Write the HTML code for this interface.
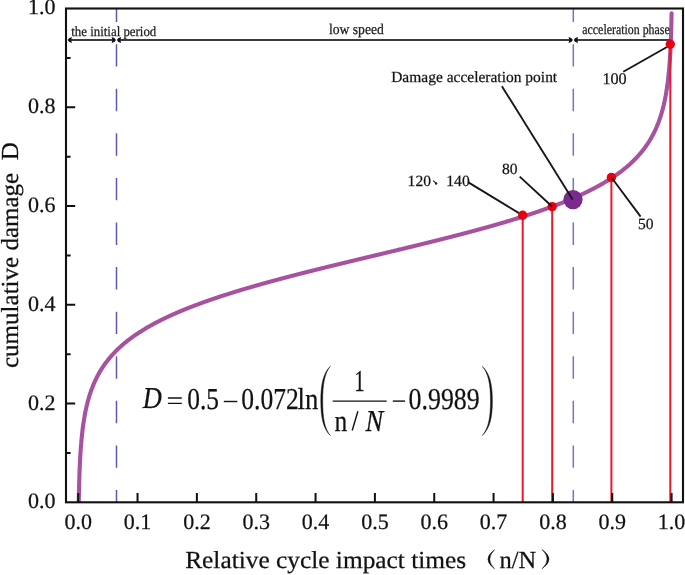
<!DOCTYPE html><html><head><meta charset="utf-8"><style>html,body{margin:0;padding:0;background:#fff;}svg{display:block;filter:blur(0.35px);text-rendering:geometricPrecision;}text{font-family:"Liberation Serif",serif;stroke:#1a1a1a;stroke-width:0.25px;}</style></head><body>
<svg width="685" height="575" viewBox="0 0 685 575">
<rect width="685" height="575" fill="#fff"/>
<line x1="116.5" y1="8.5" x2="116.5" y2="502.3" stroke="#5a5aae" stroke-width="1.5" stroke-dasharray="22.4 22.18" stroke-dashoffset="8.88"/>
<line x1="573.3" y1="8.5" x2="573.3" y2="502.3" stroke="#7474c2" stroke-width="1.5" stroke-dasharray="22.4 22.18" stroke-dashoffset="8.88"/>
<clipPath id="cp"><rect x="66.0" y="0" width="617.0" height="502.3"/></clipPath>
<path clip-path="url(#cp)" d="M78.77,502.30L78.78,501.48L78.79,500.96L78.80,500.67L78.81,499.85L78.83,499.04L78.84,498.22L78.86,497.40L78.87,496.59L78.89,495.77L78.90,494.96L78.92,494.14L78.94,493.32L78.95,492.51L78.97,491.69L78.99,490.88L79.01,490.06L79.02,489.24L79.04,488.43L79.06,487.61L79.08,486.80L79.10,485.98L79.12,485.16L79.15,484.35L79.17,483.53L79.19,482.79L79.19,482.71L79.21,481.90L79.24,481.08L79.26,480.27L79.29,479.45L79.31,478.63L79.34,477.82L79.36,477.00L79.39,476.19L79.42,475.37L79.45,474.55L79.47,473.74L79.50,472.92L79.53,472.11L79.57,471.29L79.58,470.81L79.60,470.47L79.63,469.66L79.66,468.84L79.70,468.03L79.73,467.21L79.77,466.39L79.80,465.58L79.84,464.76L79.88,463.95L79.92,463.13L79.96,462.31L79.98,461.86L80.00,461.50L80.04,460.68L80.08,459.87L80.12,459.05L80.17,458.23L80.21,457.42L80.26,456.60L80.31,455.79L80.36,454.97L80.37,454.70L80.41,454.15L80.46,453.34L80.51,452.52L80.56,451.71L80.62,450.89L80.68,450.07L80.73,449.26L80.77,448.74L80.79,448.44L80.85,447.62L80.91,446.81L80.97,445.99L81.04,445.18L81.10,444.36L81.16,443.63L81.17,443.54L81.24,442.73L81.31,441.91L81.38,441.10L81.46,440.28L81.53,439.46L81.56,439.16L81.61,438.65L81.69,437.83L81.77,437.02L81.85,436.20L81.93,435.38L81.96,435.18L82.02,434.57L82.11,433.75L82.20,432.94L82.29,432.12L82.35,431.60L82.38,431.30L82.48,430.49L82.58,429.67L82.68,428.86L82.75,428.34L82.78,428.04L82.89,427.22L83.00,426.41L83.11,425.59L83.14,425.35L83.22,424.78L83.34,423.96L83.45,423.14L83.54,422.60L83.58,422.33L83.70,421.51L83.83,420.70L83.93,420.03L83.96,419.88L84.09,419.06L84.22,418.25L84.33,417.64L84.36,417.43L84.50,416.62L84.65,415.80L84.72,415.39L84.80,414.98L84.95,414.17L85.10,413.35L85.12,413.27L85.26,412.53L85.42,411.72L85.51,411.28L85.59,410.90L85.76,410.09L85.91,409.38L85.93,409.27L86.11,408.45L86.29,407.64L86.30,407.58L86.47,406.82L86.66,406.01L86.70,405.86L86.86,405.19L87.06,404.37L87.09,404.22L87.26,403.56L87.46,402.74L87.49,402.65L87.68,401.93L87.88,401.15L87.89,401.11L88.11,400.29L88.28,399.70L88.34,399.48L88.57,398.66L88.67,398.31L88.81,397.85L89.05,397.03L89.07,396.97L89.30,396.21L89.46,395.67L89.55,395.40L89.81,394.58L89.86,394.42L90.07,393.77L90.25,393.21L90.34,392.95L90.62,392.13L90.65,392.04L90.90,391.32L91.04,390.91L91.19,390.50L91.44,389.81L91.48,389.69L91.79,388.87L91.84,388.74L92.09,388.05L92.23,387.70L92.41,387.24L92.63,386.69L92.73,386.42L93.02,385.70L93.06,385.61L93.40,384.79L93.42,384.74L93.74,383.97L93.81,383.80L94.09,383.16L94.21,382.89L94.45,382.34L94.60,382.00L94.82,381.52L95.00,381.13L95.19,380.71L95.39,380.28L95.57,379.89L95.79,379.45L95.97,379.08L96.18,378.63L96.37,378.26L96.58,377.83L96.77,377.44L96.97,377.05L97.19,376.63L97.37,376.29L97.62,375.81L97.76,375.54L98.05,375.00L98.16,374.80L98.50,374.18L98.55,374.08L98.95,373.37L98.95,373.36L99.34,372.68L99.42,372.55L99.74,372.00L99.89,371.73L100.13,371.32L100.38,370.92L100.53,370.67L100.87,370.10L100.92,370.02L101.32,369.38L101.38,369.28L101.72,368.75L101.90,368.47L102.11,368.14L102.42,367.65L102.51,367.53L102.90,366.93L102.96,366.84L103.30,366.34L103.51,366.02L103.69,365.76L104.08,365.20L104.09,365.19L104.48,364.63L104.65,364.39L104.88,364.07L105.24,363.57L105.27,363.52L105.67,362.98L105.83,362.76L106.06,362.45L106.45,361.94L106.46,361.92L106.85,361.41L107.07,361.12L107.25,360.89L107.64,360.39L107.71,360.31L108.04,359.89L108.36,359.49L108.43,359.40L108.83,358.91L109.02,358.68L109.22,358.43L109.62,357.95L109.70,357.86L110.01,357.49L110.39,357.04L110.41,357.02L110.80,356.56L111.10,356.23L111.20,356.11L111.60,355.66L111.82,355.41L111.99,355.22L112.39,354.78L112.55,354.60L112.78,354.35L113.18,353.92L113.30,353.78L113.57,353.49L113.97,353.07L114.07,352.96L114.36,352.66L114.76,352.24L114.85,352.15L115.15,351.84L115.55,351.43L115.65,351.33L115.94,351.03L116.34,350.64L116.46,350.52L116.73,350.25L117.13,349.86L117.29,349.70L117.52,349.47L117.92,349.09L118.14,348.88L118.31,348.72L118.71,348.34L119.00,348.07L119.10,347.97L119.50,347.60L119.88,347.25L119.89,347.24L120.29,346.88L120.69,346.52L120.78,346.43L121.08,346.17L121.48,345.82L121.70,345.62L121.87,345.47L122.27,345.12L122.63,344.80L122.66,344.78L123.06,344.44L123.45,344.10L123.59,343.99L123.85,343.77L124.24,343.43L124.56,343.17L124.64,343.10L125.03,342.78L125.43,342.45L125.55,342.35L125.82,342.13L126.22,341.81L126.56,341.54L126.61,341.49L127.01,341.18L127.40,340.87L127.59,340.72L127.80,340.56L128.19,340.25L128.59,339.94L128.64,339.91L128.98,339.64L129.38,339.34L129.71,339.09L129.77,339.04L130.17,338.74L130.57,338.45L130.80,338.27L130.96,338.15L131.36,337.86L131.75,337.57L131.91,337.46L132.15,337.29L132.54,337.00L132.94,336.72L133.04,336.64L133.33,336.43L133.73,336.15L134.12,335.88L134.19,335.83L134.52,335.60L134.91,335.33L135.31,335.05L135.37,335.01L135.70,334.78L136.10,334.51L136.49,334.24L136.57,334.19L136.89,333.98L137.28,333.71L137.68,333.45L137.78,333.38L138.07,333.19L138.47,332.93L138.86,332.67L139.03,332.56L139.26,332.41L139.65,332.15L140.05,331.90L140.29,331.75L140.45,331.65L140.84,331.40L141.24,331.15L141.58,330.93L141.63,330.90L142.03,330.65L142.42,330.40L142.82,330.16L142.89,330.11L143.21,329.92L143.61,329.67L144.00,329.43L144.23,329.30L144.40,329.19L144.79,328.96L145.19,328.72L145.58,328.48L145.59,328.48L145.98,328.25L146.37,328.02L146.77,327.78L146.97,327.67L147.16,327.55L147.56,327.32L147.95,327.09L148.35,326.87L148.38,326.85L148.74,326.64L149.14,326.41L149.53,326.19L149.81,326.03L149.93,325.97L150.33,325.74L150.72,325.52L151.12,325.30L151.27,325.22L151.51,325.08L151.91,324.87L152.30,324.65L152.70,324.43L152.75,324.40L153.09,324.22L153.49,324.00L153.88,323.79L154.26,323.59L154.28,323.58L154.67,323.37L155.07,323.16L155.46,322.95L155.80,322.77L155.86,322.74L156.25,322.53L156.65,322.32L157.04,322.12L157.36,321.95L157.44,321.91L157.83,321.71L158.23,321.50L158.62,321.30L158.95,321.14L159.02,321.10L159.42,320.90L159.81,320.70L160.21,320.50L160.56,320.32L160.60,320.30L161.00,320.10L161.39,319.91L161.79,319.71L162.18,319.52L162.20,319.51L162.58,319.32L162.97,319.13L163.37,318.94L163.76,318.74L163.87,318.69L164.16,318.55L164.55,318.36L164.95,318.17L165.34,317.98L165.57,317.87L165.74,317.79L166.13,317.61L166.53,317.42L166.92,317.23L167.29,317.06L167.32,317.05L167.71,316.86L168.11,316.68L168.50,316.49L168.90,316.31L169.05,316.24L169.30,316.13L169.69,315.94L170.09,315.76L170.48,315.58L170.83,315.43L170.88,315.40L171.27,315.22L171.67,315.05L172.06,314.87L172.46,314.69L172.64,314.61L172.85,314.51L173.25,314.34L173.64,314.16L174.04,313.99L174.43,313.81L174.47,313.79L174.83,313.64L175.22,313.46L175.62,313.29L176.01,313.12L176.34,312.98L176.41,312.95L176.80,312.78L177.20,312.61L177.59,312.44L177.99,312.27L178.24,312.16L178.38,312.10L178.78,311.93L179.18,311.76L179.57,311.59L179.97,311.43L180.16,311.34L180.36,311.26L180.76,311.09L181.15,310.93L181.55,310.76L181.94,310.60L182.11,310.53L182.34,310.44L182.73,310.27L183.13,310.11L183.52,309.95L183.92,309.79L184.10,309.71L184.31,309.62L184.71,309.46L185.10,309.30L185.50,309.14L185.89,308.98L186.11,308.90L186.29,308.82L186.68,308.67L187.08,308.51L187.47,308.35L187.87,308.19L188.15,308.08L188.27,308.04L188.66,307.88L189.06,307.72L189.45,307.57L189.85,307.41L190.22,307.26L190.24,307.26L190.64,307.10L191.03,306.95L191.43,306.80L191.82,306.64L192.22,306.49L192.32,306.45L192.61,306.34L193.01,306.19L193.40,306.03L193.80,305.88L194.19,305.73L194.45,305.63L194.59,305.58L194.98,305.43L195.38,305.28L195.77,305.13L196.17,304.98L196.56,304.84L196.62,304.82L196.96,304.69L197.35,304.54L197.75,304.39L198.15,304.25L198.54,304.10L198.81,304.00L198.94,303.95L199.33,303.81L199.73,303.66L200.12,303.52L200.52,303.37L200.91,303.23L201.03,303.18L201.31,303.08L201.70,302.94L202.10,302.80L202.49,302.65L202.89,302.51L203.28,302.37L203.28,302.37L203.68,302.23L204.07,302.08L204.47,301.94L204.86,301.80L205.26,301.66L205.56,301.55L205.65,301.52L206.05,301.38L206.44,301.24L206.84,301.10L207.23,300.96L207.63,300.82L207.87,300.74L208.03,300.68L208.42,300.54L208.82,300.41L209.21,300.27L209.61,300.13L210.00,299.99L210.22,299.92L210.40,299.86L210.79,299.72L211.19,299.58L211.58,299.45L211.98,299.31L212.37,299.18L212.59,299.10L212.77,299.04L213.16,298.91L213.56,298.77L213.95,298.64L214.35,298.51L214.74,298.37L214.99,298.29L215.14,298.24L215.53,298.10L215.93,297.97L216.32,297.84L216.72,297.71L217.11,297.57L217.42,297.47L217.51,297.44L217.91,297.31L218.30,297.18L218.70,297.05L219.09,296.92L219.49,296.79L219.88,296.66L219.88,296.66L220.28,296.53L220.67,296.40L221.07,296.27L221.46,296.14L221.86,296.01L222.25,295.88L222.38,295.84L222.65,295.75L223.04,295.62L223.44,295.49L223.83,295.37L224.23,295.24L224.62,295.11L224.90,295.02L225.02,294.98L225.41,294.86L225.81,294.73L226.20,294.60L226.60,294.48L227.00,294.35L227.39,294.23L227.45,294.21L227.79,294.10L228.18,293.97L228.58,293.85L228.97,293.72L229.37,293.60L229.76,293.48L230.03,293.39L230.16,293.35L230.55,293.23L230.95,293.10L231.34,292.98L231.74,292.86L232.13,292.73L232.53,292.61L232.64,292.58L232.92,292.49L233.32,292.36L233.71,292.24L234.11,292.12L234.50,292.00L234.90,291.87L235.27,291.76L235.29,291.75L235.69,291.63L236.08,291.51L236.48,291.39L236.88,291.27L237.27,291.15L237.67,291.03L237.94,290.94L238.06,290.91L238.46,290.79L238.85,290.67L239.25,290.55L239.64,290.43L240.04,290.31L240.43,290.19L240.63,290.13L240.83,290.07L241.22,289.95L241.62,289.83L242.01,289.71L242.41,289.60L242.80,289.48L243.20,289.36L243.36,289.31L243.59,289.24L243.99,289.12L244.38,289.01L244.78,288.89L245.17,288.77L245.57,288.65L245.96,288.54L246.11,288.50L246.36,288.42L246.76,288.31L247.15,288.19L247.55,288.07L247.94,287.96L248.34,287.84L248.73,287.73L248.89,287.68L249.13,287.61L249.52,287.49L249.92,287.38L250.31,287.26L250.71,287.15L251.10,287.03L251.50,286.92L251.69,286.86L251.89,286.81L252.29,286.69L252.68,286.58L253.08,286.46L253.47,286.35L253.87,286.24L254.26,286.12L254.53,286.05L254.66,286.01L255.05,285.90L255.45,285.78L255.84,285.67L256.24,285.56L256.64,285.44L257.03,285.33L257.39,285.23L257.43,285.22L257.82,285.11L258.22,285.00L258.61,284.88L259.01,284.77L259.40,284.66L259.80,284.55L260.19,284.44L260.27,284.42L260.59,284.33L260.98,284.22L261.38,284.10L261.77,283.99L262.17,283.88L262.56,283.77L262.96,283.66L263.18,283.60L263.35,283.55L263.75,283.44L264.14,283.33L264.54,283.22L264.93,283.11L265.33,283.00L265.73,282.89L266.12,282.78L266.12,282.78L266.52,282.67L266.91,282.56L267.31,282.46L267.70,282.35L268.10,282.24L268.49,282.13L268.89,282.02L269.08,281.97L269.28,281.91L269.68,281.80L270.07,281.70L270.47,281.59L270.86,281.48L271.26,281.37L271.65,281.26L272.05,281.16L272.07,281.15L272.44,281.05L272.84,280.94L273.23,280.83L273.63,280.73L274.02,280.62L274.42,280.51L274.81,280.41L275.08,280.34L275.21,280.30L275.61,280.19L276.00,280.09L276.40,279.98L276.79,279.87L277.19,279.77L277.58,279.66L277.98,279.55L278.11,279.52L278.37,279.45L278.77,279.34L279.16,279.24L279.56,279.13L279.95,279.03L280.35,278.92L280.74,278.82L281.14,278.71L281.17,278.70L281.53,278.61L281.93,278.50L282.32,278.40L282.72,278.29L283.11,278.19L283.51,278.08L283.90,277.98L284.24,277.89L284.30,277.87L284.69,277.77L285.09,277.66L285.49,277.56L285.88,277.46L286.28,277.35L286.67,277.25L287.07,277.14L287.34,277.07L287.46,277.04L287.86,276.94L288.25,276.83L288.65,276.73L289.04,276.63L289.44,276.52L289.83,276.42L290.23,276.32L290.47,276.25L290.62,276.21L291.02,276.11L291.41,276.01L291.81,275.91L292.20,275.80L292.60,275.70L292.99,275.60L293.39,275.50L293.61,275.44L293.78,275.39L294.18,275.29L294.58,275.19L294.97,275.09L295.37,274.98L295.76,274.88L296.16,274.78L296.55,274.68L296.77,274.62L296.95,274.58L297.34,274.48L297.74,274.37L298.13,274.27L298.53,274.17L298.92,274.07L299.32,273.97L299.71,273.87L299.95,273.81L300.11,273.77L300.50,273.67L300.90,273.56L301.29,273.46L301.69,273.36L302.08,273.26L302.48,273.16L302.87,273.06L303.15,272.99L303.27,272.96L303.66,272.86L304.06,272.76L304.46,272.66L304.85,272.56L305.25,272.46L305.64,272.36L306.04,272.26L306.37,272.17L306.43,272.16L306.83,272.06L307.22,271.96L307.62,271.86L308.01,271.76L308.41,271.66L308.80,271.56L309.20,271.46L309.59,271.36L309.60,271.36L309.99,271.26L310.38,271.16L310.78,271.06L311.17,270.96L311.57,270.86L311.96,270.76L312.36,270.67L312.75,270.57L312.85,270.54L313.15,270.47L313.54,270.37L313.94,270.27L314.34,270.17L314.73,270.07L315.13,269.97L315.52,269.88L315.92,269.78L316.12,269.73L316.31,269.68L316.71,269.58L317.10,269.48L317.50,269.38L317.89,269.28L318.29,269.19L318.68,269.09L319.08,268.99L319.40,268.91L319.47,268.89L319.87,268.79L320.26,268.70L320.66,268.60L321.05,268.50L321.45,268.40L321.84,268.30L322.24,268.21L322.63,268.11L322.69,268.09L323.03,268.01L323.42,267.91L323.82,267.82L324.22,267.72L324.61,267.62L325.01,267.52L325.40,267.43L325.80,267.33L326.00,267.28L326.19,267.23L326.59,267.13L326.98,267.04L327.38,266.94L327.77,266.84L328.17,266.75L328.56,266.65L328.96,266.55L329.32,266.46L329.35,266.46L329.75,266.36L330.14,266.26L330.54,266.16L330.93,266.07L331.33,265.97L331.72,265.87L332.12,265.78L332.51,265.68L332.66,265.65L332.91,265.58L333.31,265.49L333.70,265.39L334.10,265.30L334.49,265.20L334.89,265.10L335.28,265.01L335.68,264.91L336.00,264.83L336.07,264.81L336.47,264.72L336.86,264.62L337.26,264.52L337.65,264.43L338.05,264.33L338.44,264.24L338.84,264.14L339.23,264.04L339.36,264.01L339.63,263.95L340.02,263.85L340.42,263.76L340.81,263.66L341.21,263.56L341.60,263.47L342.00,263.37L342.39,263.28L342.72,263.20L342.79,263.18L343.19,263.09L343.58,262.99L343.98,262.89L344.37,262.80L344.77,262.70L345.16,262.61L345.56,262.51L345.95,262.42L346.09,262.38L346.35,262.32L346.74,262.23L347.14,262.13L347.53,262.03L347.93,261.94L348.32,261.84L348.72,261.75L349.11,261.65L349.47,261.57L349.51,261.56L349.90,261.46L350.30,261.37L350.69,261.27L351.09,261.18L351.48,261.08L351.88,260.99L352.27,260.89L352.67,260.80L352.86,260.75L353.07,260.70L353.46,260.61L353.86,260.51L354.25,260.42L354.65,260.32L355.04,260.23L355.44,260.13L355.83,260.04L356.23,259.94L356.25,259.93L356.62,259.85L357.02,259.75L357.41,259.66L357.81,259.56L358.20,259.47L358.60,259.37L358.99,259.28L359.39,259.18L359.65,259.12L359.78,259.09L360.18,258.99L360.57,258.90L360.97,258.80L361.36,258.71L361.76,258.61L362.15,258.52L362.55,258.42L362.95,258.33L363.05,258.30L363.34,258.23L363.74,258.14L364.13,258.04L364.53,257.95L364.92,257.85L365.32,257.76L365.71,257.66L366.11,257.57L366.46,257.49L366.50,257.47L366.90,257.38L367.29,257.29L367.69,257.19L368.08,257.10L368.48,257.00L368.87,256.91L369.27,256.81L369.66,256.72L369.86,256.67L370.06,256.62L370.45,256.53L370.85,256.43L371.24,256.34L371.64,256.24L372.04,256.15L372.43,256.06L372.83,255.96L373.22,255.87L373.27,255.85L373.62,255.77L374.01,255.68L374.41,255.58L374.80,255.49L375.20,255.39L375.59,255.30L375.99,255.20L376.38,255.11L376.68,255.04L376.78,255.01L377.17,254.92L377.57,254.83L377.96,254.73L378.36,254.64L378.75,254.54L379.15,254.45L379.54,254.35L379.94,254.26L380.09,254.22L380.33,254.16L380.73,254.07L381.12,253.97L381.52,253.88L381.92,253.78L382.31,253.69L382.71,253.60L383.10,253.50L383.50,253.41L383.50,253.41L383.89,253.31L384.29,253.22L384.68,253.12L385.08,253.03L385.47,252.93L385.87,252.84L386.26,252.74L386.66,252.65L386.90,252.59L387.05,252.55L387.45,252.46L387.84,252.36L388.24,252.27L388.63,252.17L389.03,252.08L389.42,251.98L389.82,251.89L390.21,251.80L390.31,251.77L390.61,251.70L391.00,251.61L391.40,251.51L391.80,251.42L392.19,251.32L392.59,251.23L392.98,251.13L393.38,251.04L393.70,250.96L393.77,250.94L394.17,250.85L394.56,250.75L394.96,250.66L395.35,250.56L395.75,250.47L396.14,250.37L396.54,250.28L396.93,250.18L397.10,250.14L397.33,250.09L397.72,249.99L398.12,249.90L398.51,249.80L398.91,249.70L399.30,249.61L399.70,249.51L400.09,249.42L400.48,249.33L400.49,249.32L400.88,249.23L401.28,249.13L401.68,249.04L402.07,248.94L402.47,248.85L402.86,248.75L403.26,248.66L403.65,248.56L403.87,248.51L404.05,248.47L404.44,248.37L404.84,248.27L405.23,248.18L405.63,248.08L406.02,247.99L406.42,247.89L406.81,247.80L407.21,247.70L407.24,247.69L407.60,247.60L408.00,247.51L408.39,247.41L408.79,247.32L409.18,247.22L409.58,247.13L409.97,247.03L410.37,246.93L410.60,246.88L410.77,246.84L411.16,246.74L411.56,246.65L411.95,246.55L412.35,246.45L412.74,246.36L413.14,246.26L413.53,246.17L413.93,246.07L413.96,246.06L414.32,245.97L414.72,245.88L415.11,245.78L415.51,245.68L415.90,245.59L416.30,245.49L416.69,245.39L417.09,245.30L417.31,245.25L417.48,245.20L417.88,245.11L418.27,245.01L418.67,244.91L419.06,244.82L419.46,244.72L419.85,244.62L420.25,244.52L420.64,244.43L420.65,244.43L421.04,244.33L421.44,244.23L421.83,244.14L422.23,244.04L422.62,243.94L423.02,243.85L423.41,243.75L423.81,243.65L423.96,243.61L424.20,243.55L424.60,243.46L424.99,243.36L425.39,243.26L425.78,243.17L426.18,243.07L426.57,242.97L426.97,242.87L427.28,242.80L427.36,242.78L427.76,242.68L428.15,242.58L428.55,242.48L428.94,242.38L429.34,242.29L429.73,242.19L430.13,242.09L430.53,241.99L430.57,241.98L430.92,241.89L431.32,241.80L431.71,241.70L432.11,241.60L432.50,241.50L432.90,241.40L433.29,241.31L433.69,241.21L433.86,241.16L434.08,241.11L434.48,241.01L434.87,240.91L435.27,240.81L435.66,240.71L436.06,240.62L436.45,240.52L436.85,240.42L437.13,240.35L437.24,240.32L437.64,240.22L438.03,240.12L438.43,240.02L438.82,239.92L439.22,239.82L439.62,239.72L440.01,239.63L440.38,239.53L440.41,239.53L440.80,239.43L441.20,239.33L441.59,239.23L441.99,239.13L442.38,239.03L442.78,238.93L443.17,238.83L443.57,238.73L443.62,238.72L443.96,238.63L444.36,238.53L444.75,238.43L445.15,238.33L445.54,238.23L445.94,238.13L446.33,238.03L446.73,237.93L446.84,237.90L447.12,237.83L447.52,237.73L447.91,237.63L448.31,237.53L448.70,237.42L449.10,237.32L449.50,237.22L449.89,237.12L450.04,237.08L450.29,237.02L450.68,236.92L451.08,236.82L451.47,236.72L451.87,236.62L452.26,236.51L452.66,236.41L453.05,236.31L453.22,236.27L453.45,236.21L453.84,236.11L454.24,236.01L454.63,235.90L455.03,235.80L455.42,235.70L455.82,235.60L456.21,235.50L456.39,235.45L456.61,235.39L457.00,235.29L457.40,235.19L457.79,235.09L458.19,234.98L458.58,234.88L458.98,234.78L459.38,234.68L459.53,234.64L459.77,234.57L460.17,234.47L460.56,234.37L460.96,234.26L461.35,234.16L461.75,234.06L462.14,233.95L462.54,233.85L462.65,233.82L462.93,233.75L463.33,233.64L463.72,233.54L464.12,233.44L464.51,233.33L464.91,233.23L465.30,233.12L465.70,233.02L465.76,233.00L466.09,232.92L466.49,232.81L466.88,232.71L467.28,232.60L467.67,232.50L468.07,232.39L468.46,232.29L468.84,232.19L468.86,232.18L469.26,232.08L469.65,231.97L470.05,231.87L470.44,231.76L470.84,231.66L471.23,231.55L471.63,231.44L471.90,231.37L472.02,231.34L472.42,231.23L472.81,231.13L473.21,231.02L473.60,230.91L474.00,230.81L474.39,230.70L474.79,230.60L474.93,230.56L475.18,230.49L475.58,230.38L475.97,230.28L476.37,230.17L476.76,230.06L477.16,229.95L477.55,229.85L477.95,229.74L477.95,229.74L478.35,229.63L478.74,229.52L479.14,229.42L479.53,229.31L479.93,229.20L480.32,229.09L480.72,228.98L480.94,228.92L481.11,228.88L481.51,228.77L481.90,228.66L482.30,228.55L482.69,228.44L483.09,228.33L483.48,228.22L483.88,228.11L483.90,228.11L484.27,228.01L484.67,227.90L485.06,227.79L485.46,227.68L485.85,227.57L486.25,227.46L486.64,227.35L486.84,227.29L487.04,227.24L487.43,227.13L487.83,227.02L488.23,226.91L488.62,226.80L489.02,226.68L489.41,226.57L489.76,226.48L489.81,226.46L490.20,226.35L490.60,226.24L490.99,226.13L491.39,226.02L491.78,225.90L492.18,225.79L492.57,225.68L492.65,225.66L492.97,225.57L493.36,225.46L493.76,225.34L494.15,225.23L494.55,225.12L494.94,225.01L495.34,224.89L495.51,224.84L495.73,224.78L496.13,224.67L496.52,224.55L496.92,224.44L497.31,224.33L497.71,224.21L498.11,224.10L498.35,224.03L498.50,223.98L498.90,223.87L499.29,223.75L499.69,223.64L500.08,223.52L500.48,223.41L500.87,223.29L501.16,223.21L501.27,223.18L501.66,223.06L502.06,222.95L502.45,222.83L502.85,222.72L503.24,222.60L503.64,222.48L503.94,222.40L504.03,222.37L504.43,222.25L504.82,222.13L505.22,222.02L505.61,221.90L506.01,221.78L506.40,221.67L506.69,221.58L506.80,221.55L507.19,221.43L507.59,221.31L507.99,221.19L508.38,221.08L508.78,220.96L509.17,220.84L509.42,220.76L509.57,220.72L509.96,220.60L510.36,220.48L510.75,220.36L511.15,220.24L511.54,220.12L511.94,220.00L512.12,219.95L512.33,219.88L512.73,219.76L513.12,219.64L513.52,219.52L513.91,219.40L514.31,219.28L514.70,219.16L514.79,219.13L515.10,219.04L515.49,218.92L515.89,218.79L516.28,218.67L516.68,218.55L517.08,218.43L517.43,218.32L517.47,218.30L517.87,218.18L518.26,218.06L518.66,217.93L519.05,217.81L519.45,217.69L519.84,217.56L520.05,217.50L520.24,217.44L520.63,217.32L521.03,217.19L521.42,217.07L521.82,216.94L522.21,216.82L522.61,216.69L522.63,216.68L523.00,216.57L523.40,216.44L523.79,216.31L524.19,216.19L524.58,216.06L524.98,215.93L525.19,215.87L525.37,215.81L525.77,215.68L526.16,215.55L526.56,215.42L526.96,215.30L527.35,215.17L527.71,215.05L527.75,215.04L528.14,214.91L528.54,214.78L528.93,214.65L529.33,214.52L529.72,214.39L530.12,214.26L530.21,214.24L530.51,214.13L530.91,214.00L531.30,213.87L531.70,213.74L532.09,213.61L532.49,213.48L532.67,213.42L532.88,213.35L533.28,213.22L533.67,213.09L534.07,212.95L534.46,212.82L534.86,212.69L535.11,212.60L535.25,212.55L535.65,212.42L536.04,212.29L536.44,212.15L536.84,212.02L537.23,211.88L537.52,211.79L537.63,211.75L538.02,211.61L538.42,211.48L538.81,211.34L539.21,211.21L539.60,211.07L539.89,210.97L540.00,210.93L540.39,210.80L540.79,210.66L541.18,210.52L541.58,210.39L541.97,210.25L542.24,210.15L542.37,210.11L542.76,209.97L543.16,209.83L543.55,209.69L543.95,209.55L544.34,209.41L544.55,209.34L544.74,209.27L545.13,209.13L545.53,208.99L545.93,208.85L546.32,208.71L546.72,208.57L546.84,208.52L547.11,208.43L547.51,208.28L547.90,208.14L548.30,208.00L548.69,207.85L549.09,207.71L549.10,207.71L549.48,207.57L549.88,207.42L550.27,207.28L550.67,207.13L551.06,206.99L551.32,206.89L551.46,206.84L551.85,206.69L552.25,206.55L552.64,206.40L553.04,206.25L553.43,206.11L553.52,206.07L553.83,205.96L554.22,205.81L554.62,205.66L555.01,205.51L555.41,205.36L555.68,205.26L555.81,205.21L556.20,205.06L556.60,204.91L556.99,204.76L557.39,204.61L557.78,204.46L557.82,204.44L558.18,204.31L558.57,204.15L558.97,204.00L559.36,203.85L559.76,203.69L559.93,203.63L560.15,203.54L560.55,203.38L560.94,203.23L561.34,203.07L561.73,202.92L562.00,202.81L562.13,202.76L562.52,202.60L562.92,202.45L563.31,202.29L563.71,202.13L564.05,201.99L564.10,201.97L564.50,201.81L564.89,201.65L565.29,201.49L565.69,201.33L566.06,201.18L566.08,201.17L566.48,201.01L566.87,200.85L567.27,200.69L567.66,200.52L568.05,200.36L568.06,200.36L568.45,200.20L568.85,200.03L569.24,199.87L569.64,199.70L570.01,199.55L570.03,199.54L570.43,199.37L570.82,199.20L571.22,199.04L571.61,198.87L571.94,198.73L572.01,198.70L572.40,198.53L572.80,198.36L573.19,198.19L573.59,198.02L573.84,197.91L573.98,197.85L574.38,197.68L574.77,197.51L575.17,197.33L575.57,197.16L575.71,197.10L575.96,196.99L576.36,196.81L576.75,196.64L577.15,196.46L577.54,196.29L577.55,196.28L577.94,196.11L578.33,195.93L578.73,195.75L579.12,195.58L579.36,195.47L579.52,195.40L579.91,195.22L580.31,195.04L580.70,194.85L581.10,194.67L581.15,194.65L581.49,194.49L581.89,194.31L582.28,194.12L582.68,193.94L582.90,193.83L583.07,193.75L583.47,193.57L583.86,193.38L584.26,193.20L584.63,193.02L584.66,193.01L585.05,192.82L585.45,192.63L585.84,192.44L586.24,192.25L586.33,192.20L586.63,192.06L587.03,191.87L587.42,191.67L587.82,191.48L588.01,191.39L588.21,191.28L588.61,191.09L589.00,190.89L589.40,190.70L589.65,190.57L589.79,190.50L590.19,190.30L590.58,190.10L590.98,189.90L591.27,189.75L591.37,189.70L591.77,189.50L592.16,189.30L592.56,189.09L592.86,188.94L592.95,188.89L593.35,188.69L593.74,188.48L594.14,188.27L594.43,188.12L594.54,188.07L594.93,187.86L595.33,187.65L595.72,187.44L595.97,187.31L596.12,187.23L596.51,187.01L596.91,186.80L597.30,186.59L597.48,186.49L597.70,186.37L598.09,186.16L598.49,185.94L598.88,185.72L598.97,185.67L599.28,185.50L599.67,185.28L600.07,185.06L600.43,184.86L600.46,184.84L600.86,184.62L601.25,184.39L601.65,184.17L601.87,184.04L602.04,183.94L602.44,183.71L602.83,183.48L603.23,183.25L603.28,183.23L603.62,183.02L604.02,182.79L604.42,182.56L604.67,182.41L604.81,182.32L605.21,182.09L605.60,181.85L606.00,181.61L606.03,181.59L606.39,181.37L606.79,181.13L607.18,180.89L607.37,180.78L607.58,180.65L607.97,180.40L608.37,180.16L608.68,179.96L608.76,179.91L609.16,179.66L609.55,179.41L609.95,179.16L609.98,179.15L610.34,178.91L610.74,178.66L611.13,178.40L611.24,178.33L611.53,178.14L611.92,177.88L612.32,177.62L612.49,177.51L612.71,177.36L613.11,177.10L613.50,176.84L613.71,176.70L613.90,176.57L614.30,176.30L614.69,176.03L614.91,175.88L615.09,175.76L615.48,175.49L615.88,175.21L616.09,175.06L616.27,174.94L616.67,174.66L617.06,174.38L617.25,174.25L617.46,174.10L617.85,173.82L618.25,173.53L618.38,173.43L618.64,173.24L619.04,172.95L619.43,172.66L619.50,172.62L619.83,172.37L620.22,172.07L620.59,171.80L620.62,171.78L621.01,171.48L621.41,171.18L621.66,170.98L621.80,170.87L622.20,170.57L622.59,170.26L622.71,170.17L622.99,169.95L623.39,169.64L623.75,169.35L623.78,169.33L624.18,169.01L624.57,168.69L624.76,168.54L624.97,168.37L625.36,168.04L625.75,167.72L625.76,167.72L626.15,167.39L626.55,167.06L626.73,166.90L626.94,166.72L627.34,166.38L627.68,166.09L627.73,166.05L628.13,165.70L628.52,165.36L628.62,165.27L628.92,165.01L629.31,164.66L629.54,164.46L629.71,164.30L630.10,163.95L630.44,163.64L630.50,163.59L630.89,163.22L631.29,162.86L631.32,162.82L631.68,162.49L632.08,162.11L632.19,162.01L632.47,161.74L632.87,161.36L633.04,161.19L633.27,160.97L633.66,160.58L633.87,160.38L634.06,160.19L634.45,159.80L634.69,159.56L634.85,159.40L635.24,159.00L635.49,158.74L635.64,158.59L636.03,158.18L636.27,157.93L636.43,157.76L636.82,157.34L637.04,157.11L637.22,156.92L637.61,156.49L637.79,156.30L638.01,156.06L638.40,155.62L638.53,155.48L638.80,155.18L639.19,154.73L639.25,154.66L639.59,154.28L639.96,153.85L639.98,153.82L640.38,153.36L640.65,153.03L640.77,152.89L641.17,152.41L641.33,152.22L641.56,151.93L641.96,151.45L642.00,151.40L642.35,150.96L642.65,150.58L642.75,150.46L643.15,149.95L643.29,149.77L643.54,149.44L643.92,148.95L643.94,148.93L644.33,148.40L644.53,148.14L644.73,147.87L645.12,147.33L645.13,147.32L645.52,146.79L645.72,146.50L645.91,146.23L646.29,145.69L646.31,145.67L646.70,145.10L646.86,144.87L647.10,144.52L647.41,144.06L647.49,143.93L647.89,143.34L647.95,143.24L648.28,142.73L648.48,142.42L648.68,142.11L649.00,141.61L649.07,141.49L649.47,140.85L649.51,140.79L649.86,140.21L650.00,139.97L650.26,139.55L650.49,139.16L650.65,138.88L650.97,138.34L651.05,138.20L651.43,137.53L651.44,137.50L651.84,136.80L651.89,136.71L652.23,136.08L652.33,135.89L652.63,135.35L652.77,135.08L653.03,134.60L653.20,134.26L653.42,133.84L653.62,133.45L653.82,133.06L654.03,132.63L654.21,132.26L654.43,131.81L654.61,131.45L654.82,131.00L655.00,130.62L655.21,130.18L655.40,129.77L655.58,129.37L655.79,128.90L655.95,128.55L656.19,128.02L656.31,127.73L656.58,127.11L656.66,126.92L656.98,126.17L657.01,126.10L657.35,125.29L657.37,125.22L657.68,124.47L657.77,124.24L658.00,123.65L658.16,123.23L658.31,122.84L658.56,122.19L658.62,122.02L658.93,121.21L658.95,121.13L659.22,120.39L659.35,120.03L659.51,119.57L659.74,118.90L659.79,118.76L660.07,117.94L660.14,117.74L660.34,117.13L660.53,116.53L660.61,116.31L660.87,115.49L660.93,115.29L661.12,114.68L661.32,114.00L661.37,113.86L661.61,113.05L661.72,112.67L661.85,112.23L662.08,111.41L662.12,111.29L662.31,110.60L662.51,109.85L662.53,109.78L662.75,108.97L662.91,108.35L662.96,108.15L663.17,107.33L663.30,106.79L663.37,106.52L663.57,105.70L663.70,105.16L663.76,104.88L663.95,104.07L664.09,103.46L664.14,103.25L664.32,102.44L664.49,101.67L664.50,101.62L664.67,100.80L664.84,99.99L664.88,99.79L665.01,99.17L665.17,98.36L665.28,97.81L665.33,97.54L665.48,96.72L665.64,95.91L665.67,95.71L665.78,95.09L665.93,94.28L666.07,93.49L666.07,93.46L666.21,92.64L666.35,91.83L666.46,91.11L666.48,91.01L666.61,90.20L666.74,89.38L666.86,88.58L666.86,88.56L666.98,87.75L667.10,86.93L667.22,86.12L667.25,85.85L667.33,85.30L667.44,84.48L667.55,83.67L667.65,82.90L667.65,82.85L667.76,82.04L667.86,81.22L667.96,80.40L668.04,79.69L668.05,79.59L668.15,78.77L668.24,77.96L668.33,77.14L668.42,76.32L668.44,76.16L668.51,75.51L668.59,74.69L668.67,73.88L668.76,73.06L668.83,72.25L668.83,72.24L668.91,71.43L668.99,70.61L669.06,69.79L669.13,68.98L669.20,68.16L669.23,67.86L669.27,67.35L669.34,66.53L669.40,65.71L669.47,64.90L669.53,64.08L669.59,63.27L669.62,62.86L669.65,62.45L669.71,61.63L669.77,60.82L669.83,60.00L669.88,59.19L669.93,58.37L669.99,57.55L670.02,57.04L670.04,56.74L670.09,55.92L670.14,55.11L670.19,54.29L670.23,53.47L670.28,52.66L670.32,51.84L670.37,51.03L670.41,50.21L670.41,50.10L670.45,49.39L670.49,48.58L670.53,47.76L670.57,46.95L670.61,46.13L670.65,45.31L670.68,44.50L670.72,43.68L670.75,42.87L670.79,42.05L670.81,41.47L670.82,41.23L670.85,40.42L670.88,39.60L670.91,38.78L670.94,37.97L670.97,37.15L671.00,36.34L671.03,35.52L671.06,34.70L671.09,33.89L671.11,33.07L671.14,32.26L671.16,31.44L671.19,30.62L671.20,30.08L671.21,29.81L671.24,28.99L671.26,28.18L671.28,27.36L671.30,26.54L671.33,25.73L671.35,24.91L671.37,24.10L671.39,23.28L671.41,22.46L671.43,21.65L671.44,20.83L671.46,20.02L671.48,19.20L671.50,18.38L671.52,17.57L671.53,16.75L671.55,15.94L671.56,15.12L671.58,14.30L671.60,13.49L671.60,13.24" fill="none" stroke="#a8529f" stroke-width="4.1" stroke-linejoin="round" stroke-linecap="round"/>
<line x1="522.7" y1="215.3" x2="522.7" y2="502.3" stroke="#e8192c" stroke-width="2"/>
<line x1="552.2" y1="206.6" x2="552.2" y2="502.3" stroke="#e8192c" stroke-width="2"/>
<line x1="611.4" y1="177.4" x2="611.4" y2="502.3" stroke="#e8192c" stroke-width="2"/>
<line x1="670.3" y1="44.2" x2="670.3" y2="502.3" stroke="#e8192c" stroke-width="2"/>
<rect x="66.0" y="8.5" width="617.0" height="493.8" fill="none" stroke="#111" stroke-width="2.1"/>
<path d="M66.0,452.93h4.6M66.0,403.55h9.2M66.0,354.18h4.6M66.0,304.80h9.2M66.0,255.43h4.6M66.0,206.05h9.2M66.0,156.68h4.6M66.0,107.30h9.2M66.0,57.93h4.6M78.20,502.3v-9.4M137.54,502.3v-9.4M196.88,502.3v-9.4M256.22,502.3v-9.4M315.56,502.3v-9.4M374.90,502.3v-9.4M434.24,502.3v-9.4M493.58,502.3v-9.4M552.92,502.3v-9.4M612.26,502.3v-9.4M671.60,502.3v-9.4" stroke="#111" stroke-width="2" fill="none"/>
<text x="55.4" y="508.20" font-size="22" text-anchor="end" fill="#111">0.0</text>
<text x="55.4" y="409.65" font-size="22" text-anchor="end" fill="#111">0.2</text>
<text x="55.4" y="310.90" font-size="22" text-anchor="end" fill="#111">0.4</text>
<text x="55.4" y="212.15" font-size="22" text-anchor="end" fill="#111">0.6</text>
<text x="55.4" y="113.40" font-size="22" text-anchor="end" fill="#111">0.8</text>
<text x="55.4" y="14.35" font-size="22" text-anchor="end" fill="#111">1.0</text>
<text x="78.20" y="529.4" font-size="22" text-anchor="middle" fill="#111">0.0</text>
<text x="137.54" y="529.4" font-size="22" text-anchor="middle" fill="#111">0.1</text>
<text x="196.88" y="529.4" font-size="22" text-anchor="middle" fill="#111">0.2</text>
<text x="256.22" y="529.4" font-size="22" text-anchor="middle" fill="#111">0.3</text>
<text x="315.56" y="529.4" font-size="22" text-anchor="middle" fill="#111">0.4</text>
<text x="374.90" y="529.4" font-size="22" text-anchor="middle" fill="#111">0.5</text>
<text x="434.24" y="529.4" font-size="22" text-anchor="middle" fill="#111">0.6</text>
<text x="493.58" y="529.4" font-size="22" text-anchor="middle" fill="#111">0.7</text>
<text x="552.92" y="529.4" font-size="22" text-anchor="middle" fill="#111">0.8</text>
<text x="612.26" y="529.4" font-size="22" text-anchor="middle" fill="#111">0.9</text>
<text x="671.60" y="529.4" font-size="22" text-anchor="middle" fill="#111">1.0</text>
<text x="185.2" y="568" font-size="24.5" fill="#111" textLength="281" lengthAdjust="spacingAndGlyphs">Relative cycle impact times</text>
<text x="499.5" y="568" font-size="24.5" fill="#111">n/N</text>
<path d="M494.5,549.7 Q481.30,559.25 494.5,568.8 Q485.10,559.25 494.5,549.7 Z" fill="#111" stroke="#111" stroke-width="0.5" stroke-linejoin="round"/>
<path d="M542.1,549.5 Q555.90,559.15 542.1,568.8 Q552.10,559.15 542.1,549.5 Z" fill="#111" stroke="#111" stroke-width="0.5" stroke-linejoin="round"/>
<text transform="translate(17.5,368.0) rotate(-90)" font-size="24.5" fill="#111" textLength="225.8" lengthAdjust="spacingAndGlyphs" xml:space="preserve">cumulative damage  D</text>
<line x1="69" y1="40.0" x2="114" y2="40.0" stroke="#3c3c3c" stroke-width="2"/>
<line x1="119" y1="40.0" x2="570.5" y2="40.0" stroke="#3c3c3c" stroke-width="2"/>
<line x1="576" y1="40.0" x2="670" y2="40.0" stroke="#3c3c3c" stroke-width="2"/>
<path d="M67.60,40.00 Q68.80,37.60 72.00,37.00 L71.10,40.00 L72.00,43.00 Q68.80,42.40 67.60,40.00 Z" fill="#111"/>
<path d="M116.00,40.00 Q114.80,37.60 111.60,37.00 L112.50,40.00 L111.60,43.00 Q114.80,42.40 116.00,40.00 Z" fill="#111"/>
<path d="M116.80,40.00 Q118.00,37.60 121.20,37.00 L120.30,40.00 L121.20,43.00 Q118.00,42.40 116.80,40.00 Z" fill="#111"/>
<path d="M572.90,40.00 Q571.70,37.60 568.50,37.00 L569.40,40.00 L568.50,43.00 Q571.70,42.40 572.90,40.00 Z" fill="#111"/>
<path d="M573.70,40.00 Q574.90,37.60 578.10,37.00 L577.20,40.00 L578.10,43.00 Q574.90,42.40 573.70,40.00 Z" fill="#111"/>
<text x="71.3" y="35.8" font-size="14" fill="#222" textLength="85" lengthAdjust="spacingAndGlyphs">the initial period</text>
<text x="328.9" y="33.8" font-size="14.8" fill="#222" textLength="55" lengthAdjust="spacingAndGlyphs">low speed</text>
<text x="582.3" y="33.5" font-size="14.3" fill="#222" textLength="87.4" lengthAdjust="spacingAndGlyphs">acceleration phase</text>
<line x1="468.8" y1="182.6" x2="522.7" y2="215.4" stroke="#151515" stroke-width="1.85"/>
<line x1="623.3" y1="71.8" x2="667.0" y2="47.0" stroke="#151515" stroke-width="1.85"/>
<circle cx="522.7" cy="215.3" r="4.7" fill="#e60012"/>
<circle cx="552.2" cy="206.6" r="4.7" fill="#e60012"/>
<circle cx="611.4" cy="177.4" r="4.7" fill="#e60012"/>
<circle cx="670.3" cy="44.2" r="4.7" fill="#e60012"/>
<circle cx="573" cy="199.6" r="9.6" fill="#7a2a8e"/>
<line x1="519.7" y1="176.6" x2="552.1" y2="206.5" stroke="#151515" stroke-width="1.85"/>
<line x1="640.6" y1="216.6" x2="611.3" y2="177.3" stroke="#151515" stroke-width="1.85"/>
<line x1="501.9" y1="86.3" x2="572.6" y2="199.5" stroke="#151515" stroke-width="1.85"/>
<text x="391.2" y="81.7" font-size="15.4" fill="#111" textLength="166" lengthAdjust="spacingAndGlyphs">Damage acceleration point</text>
<text x="407.6" y="186.1" font-size="15.6" fill="#111">120</text>
<path d="M433.4,180.9 L436.2,183.4" stroke="#222" stroke-width="1.2" stroke-linecap="round"/>
<circle cx="436.1" cy="183.4" r="1.25" fill="#222"/>
<text x="446.3" y="186.1" font-size="15.6" fill="#111">140</text>
<text x="502" y="174" font-size="15.6" fill="#111">80</text>
<text x="638" y="228.7" font-size="15.6" fill="#111">50</text>
<text x="602.4" y="83.6" font-size="16.2" fill="#111">100</text>
<g fill="#111">
<text x="142.72" y="408.2" font-size="30.4" font-style="italic" textLength="19.06" lengthAdjust="spacingAndGlyphs">D</text>
<path d="M167.9,398.0 H181.8 M167.9,403.35 H181.8" stroke="#111" stroke-width="1.35"/>
<text x="187.23" y="408.5" font-size="30.4" textLength="31.76" lengthAdjust="spacingAndGlyphs">0.5</text>
<path d="M223.8,401.5 H237.3" stroke="#111" stroke-width="1.4"/>
<text x="241.33" y="408.5" font-size="30.4" textLength="57.58" lengthAdjust="spacingAndGlyphs">0.072</text>
<text x="297.57" y="408.5" font-size="30.4" textLength="20.73" lengthAdjust="spacingAndGlyphs">ln</text>
<text x="354.28" y="391.2" font-size="30.4" textLength="10.48" lengthAdjust="spacingAndGlyphs">1</text>
<path d="M332.7,401.1 H386.7" stroke="#111" stroke-width="1.4"/>
<text x="334.44" y="430.5" font-size="30.4" textLength="12.74" lengthAdjust="spacingAndGlyphs">n</text>
<path d="M357.9,411.3 L352.2,430.5" stroke="#111" stroke-width="1.4"/>
<text x="365.51" y="430.5" font-size="30.4" font-style="italic" textLength="17.74" lengthAdjust="spacingAndGlyphs">N</text>
<path d="M392.8,401.1 H405.1" stroke="#111" stroke-width="1.4"/>
<text x="408.52" y="408.5" font-size="30.4" textLength="71.25" lengthAdjust="spacingAndGlyphs">0.9989</text>
<path d="M330.3,366.3 C323.18,373.3 320.8,384.3 320.8,400.95000000000005 C320.8,417.6 323.18,428.6 330.3,435.6 C324.60,428.6 322.7,417.6 322.7,400.95000000000005 C322.7,384.3 324.60,373.3 330.3,366.3 Z" fill="#111" stroke="#111" stroke-width="0.45" stroke-linejoin="round"/>
<path d="M482.2,366.3 C489.85,373.3 492.4,384.3 492.4,400.95000000000005 C492.4,417.6 489.85,428.6 482.2,435.6 C488.43,428.6 490.5,417.6 490.5,400.95000000000005 C490.5,384.3 488.43,373.3 482.2,366.3 Z" fill="#111" stroke="#111" stroke-width="0.45" stroke-linejoin="round"/>
</g>
</svg></body></html>
